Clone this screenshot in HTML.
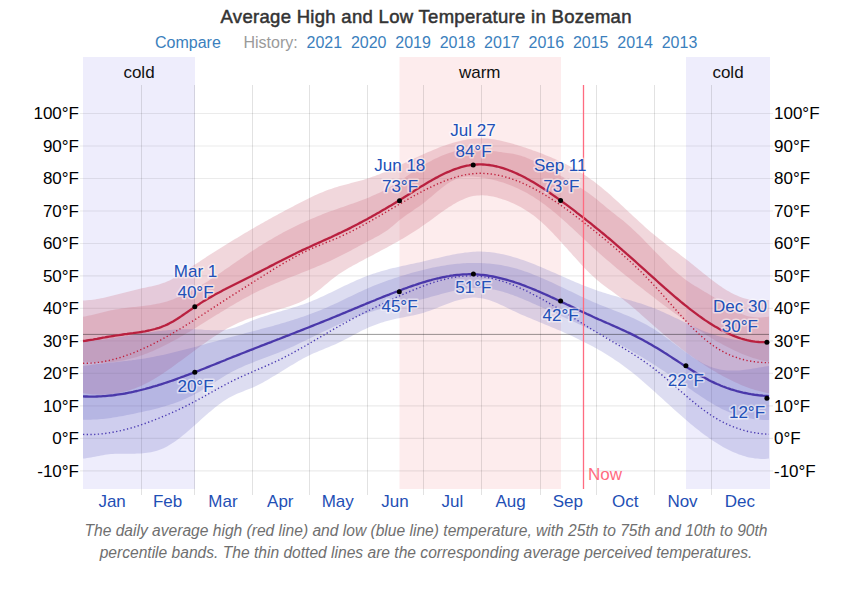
<!DOCTYPE html>
<html><head><meta charset="utf-8"><style>
html,body{margin:0;padding:0;background:#fff;}
body{width:861px;height:589px;overflow:hidden;position:relative;font-family:"Liberation Sans",sans-serif;}
svg{position:absolute;left:0;top:0;}
svg text{font-family:"Liberation Sans",sans-serif;}
.cap{position:absolute;left:0;width:852px;top:520px;text-align:center;font-style:italic;font-size:15.6px;line-height:22px;color:#6f6f6f;}
</style></head><body>
<svg width="861" height="589" viewBox="0 0 861 589">
<text x="426.2" y="22.5" text-anchor="middle" font-size="18.5" fill="#333" stroke="#333" stroke-width="0.5" letter-spacing="0.3">Average High and Low Temperature in Bozeman</text>
<g font-size="16">
<text x="155" y="47.7" fill="#3b7fbd">Compare</text>
<text x="243.5" y="47.7" fill="#9a9a9a">History:</text>
<g fill="#3b7fbd"><text x="306.5" y="47.7">2021</text><text x="350.9" y="47.7">2020</text><text x="395.3" y="47.7">2019</text><text x="439.7" y="47.7">2018</text><text x="484.1" y="47.7">2017</text><text x="528.5" y="47.7">2016</text><text x="572.9" y="47.7">2015</text><text x="617.3" y="47.7">2014</text><text x="661.7" y="47.7">2013</text></g>
</g>
<rect x="83" y="57" width="112" height="432" fill="#eeedfc"/>
<rect x="399.5" y="57" width="161.5" height="432" fill="#fdeced"/>
<rect x="686" y="57" width="84" height="432" fill="#eeedfc"/>
<g font-size="17" fill="#111" text-anchor="middle">
<text x="139" y="77.8">cold</text><text x="479.7" y="77.8">warm</text><text x="728" y="77.8">cold</text>
</g>
<g stroke="rgba(0,0,0,0.08)" stroke-width="1.1"><line x1="80" y1="470.9" x2="773" y2="470.9"/><line x1="80" y1="438.4" x2="773" y2="438.4"/><line x1="80" y1="405.9" x2="773" y2="405.9"/><line x1="80" y1="373.4" x2="773" y2="373.4"/><line x1="80" y1="340.9" x2="773" y2="340.9"/><line x1="80" y1="308.4" x2="773" y2="308.4"/><line x1="80" y1="275.9" x2="773" y2="275.9"/><line x1="80" y1="243.5" x2="773" y2="243.5"/><line x1="80" y1="211.0" x2="773" y2="211.0"/><line x1="80" y1="178.5" x2="773" y2="178.5"/><line x1="80" y1="146.0" x2="773" y2="146.0"/><line x1="80" y1="113.5" x2="773" y2="113.5"/></g>
<g stroke="rgba(0,0,0,0.115)" stroke-width="1"><line x1="141.5" y1="85" x2="141.5" y2="495"/><line x1="194.5" y1="85" x2="194.5" y2="495"/><line x1="252.5" y1="85" x2="252.5" y2="495"/><line x1="309.5" y1="85" x2="309.5" y2="495"/><line x1="367.5" y1="85" x2="367.5" y2="495"/><line x1="423.5" y1="85" x2="423.5" y2="495"/><line x1="481.5" y1="85" x2="481.5" y2="495"/><line x1="540.5" y1="85" x2="540.5" y2="495"/><line x1="596.5" y1="85" x2="596.5" y2="495"/><line x1="654.5" y1="85" x2="654.5" y2="495"/><line x1="711.5" y1="85" x2="711.5" y2="495"/></g>
<path d="M83.0,300.6 L85.0,300.5 L87.0,300.3 L89.0,300.1 L91.0,299.9 L93.0,299.7 L95.0,299.4 L97.0,299.1 L99.0,298.7 L101.0,298.3 L103.0,297.9 L105.0,297.5 L107.0,297.1 L109.0,296.6 L111.0,296.1 L113.0,295.6 L115.0,295.1 L117.0,294.6 L119.0,294.1 L121.0,293.6 L123.0,293.1 L125.0,292.5 L127.0,292.0 L129.0,291.5 L131.0,291.0 L133.0,290.5 L135.0,290.0 L137.0,289.5 L139.0,289.0 L141.0,288.5 L143.0,288.1 L145.0,287.7 L147.0,287.3 L149.0,286.8 L151.0,286.4 L153.0,286.0 L155.0,285.5 L157.0,285.0 L159.0,284.4 L161.0,283.8 L163.0,283.1 L165.0,282.4 L167.0,281.6 L169.0,280.7 L171.0,279.7 L173.0,278.6 L175.0,277.5 L177.0,276.3 L179.0,275.1 L181.0,273.8 L183.0,272.5 L185.0,271.2 L187.0,269.9 L189.0,268.5 L191.0,267.2 L193.0,265.8 L195.0,264.5 L197.0,263.2 L199.0,261.9 L201.0,260.5 L203.0,259.2 L205.0,257.9 L207.0,256.6 L209.0,255.3 L211.0,254.1 L213.0,252.8 L215.0,251.5 L217.0,250.2 L219.0,249.0 L221.0,247.7 L223.0,246.5 L225.0,245.2 L227.0,244.0 L229.0,242.8 L231.0,241.5 L233.0,240.3 L235.0,239.1 L237.0,237.9 L239.0,236.7 L241.0,235.5 L243.0,234.3 L245.0,233.1 L247.0,231.9 L249.0,230.8 L251.0,229.6 L253.0,228.4 L255.0,227.3 L257.0,226.1 L259.0,225.0 L261.0,223.8 L263.0,222.7 L265.0,221.6 L267.0,220.4 L269.0,219.3 L271.0,218.2 L273.0,217.1 L275.0,216.0 L277.0,214.9 L279.0,213.8 L281.0,212.7 L283.0,211.7 L285.0,210.6 L287.0,209.5 L289.0,208.5 L291.0,207.4 L293.0,206.4 L295.0,205.3 L297.0,204.3 L299.0,203.2 L301.0,202.2 L303.0,201.2 L305.0,200.2 L307.0,199.2 L309.0,198.2 L311.0,197.2 L313.0,196.3 L315.0,195.3 L317.0,194.4 L319.0,193.6 L321.0,192.7 L323.0,191.9 L325.0,191.1 L327.0,190.3 L329.0,189.6 L331.0,188.9 L333.0,188.2 L335.0,187.5 L337.0,186.9 L339.0,186.3 L341.0,185.8 L343.0,185.2 L345.0,184.7 L347.0,184.2 L349.0,183.7 L351.0,183.1 L353.0,182.6 L355.0,182.1 L357.0,181.6 L359.0,181.0 L361.0,180.5 L363.0,179.9 L365.0,179.3 L367.0,178.7 L369.0,178.0 L371.0,177.3 L373.0,176.6 L375.0,175.9 L377.0,175.1 L379.0,174.4 L381.0,173.6 L383.0,172.7 L385.0,171.9 L387.0,171.0 L389.0,170.2 L391.0,169.3 L393.0,168.4 L395.0,167.5 L397.0,166.6 L399.0,165.6 L401.0,164.7 L403.0,163.8 L405.0,162.8 L407.0,161.9 L409.0,160.9 L411.0,160.0 L413.0,159.1 L415.0,158.1 L417.0,157.2 L419.0,156.2 L421.0,155.3 L423.0,154.4 L425.0,153.5 L427.0,152.6 L429.0,151.7 L431.0,150.9 L433.0,150.0 L435.0,149.2 L437.0,148.4 L439.0,147.6 L441.0,146.8 L443.0,146.1 L445.0,145.4 L447.0,144.7 L449.0,144.0 L451.0,143.4 L453.0,142.8 L455.0,142.2 L457.0,141.7 L459.0,141.2 L461.0,140.7 L463.0,140.3 L465.0,139.9 L467.0,139.5 L469.0,139.2 L471.0,139.0 L473.0,138.8 L475.0,138.6 L477.0,138.5 L479.0,138.4 L481.0,138.4 L483.0,138.4 L485.0,138.5 L487.0,138.6 L489.0,138.8 L491.0,139.0 L493.0,139.3 L495.0,139.6 L497.0,139.9 L499.0,140.3 L501.0,140.7 L503.0,141.2 L505.0,141.7 L507.0,142.2 L509.0,142.7 L511.0,143.2 L513.0,143.8 L515.0,144.4 L517.0,145.0 L519.0,145.7 L521.0,146.3 L523.0,146.9 L525.0,147.6 L527.0,148.3 L529.0,149.0 L531.0,149.6 L533.0,150.4 L535.0,151.1 L537.0,151.8 L539.0,152.6 L541.0,153.3 L543.0,154.1 L545.0,154.9 L547.0,155.7 L549.0,156.5 L551.0,157.3 L553.0,158.2 L555.0,159.1 L557.0,160.0 L559.0,160.9 L561.0,161.8 L563.0,162.8 L565.0,163.8 L567.0,164.8 L569.0,165.8 L571.0,166.9 L573.0,168.0 L575.0,169.2 L577.0,170.3 L579.0,171.5 L581.0,172.7 L583.0,174.0 L585.0,175.3 L587.0,176.6 L589.0,178.0 L591.0,179.4 L593.0,180.8 L595.0,182.3 L597.0,183.9 L599.0,185.4 L601.0,187.0 L603.0,188.7 L605.0,190.4 L607.0,192.1 L609.0,193.8 L611.0,195.6 L613.0,197.4 L615.0,199.2 L617.0,201.0 L619.0,202.8 L621.0,204.7 L623.0,206.5 L625.0,208.4 L627.0,210.3 L629.0,212.2 L631.0,214.0 L633.0,215.9 L635.0,217.8 L637.0,219.6 L639.0,221.5 L641.0,223.3 L643.0,225.1 L645.0,226.9 L647.0,228.7 L649.0,230.4 L651.0,232.2 L653.0,233.8 L655.0,235.5 L657.0,237.1 L659.0,238.7 L661.0,240.3 L663.0,241.8 L665.0,243.4 L667.0,244.9 L669.0,246.4 L671.0,247.9 L673.0,249.4 L675.0,250.8 L677.0,252.3 L679.0,253.8 L681.0,255.4 L683.0,256.9 L685.0,258.4 L687.0,260.0 L689.0,261.6 L691.0,263.2 L693.0,264.8 L695.0,266.4 L697.0,268.1 L699.0,269.7 L701.0,271.3 L703.0,272.9 L705.0,274.5 L707.0,276.1 L709.0,277.7 L711.0,279.3 L713.0,280.8 L715.0,282.3 L717.0,283.7 L719.0,285.2 L721.0,286.5 L723.0,287.9 L725.0,289.2 L727.0,290.4 L729.0,291.6 L731.0,292.7 L733.0,293.7 L735.0,294.7 L737.0,295.6 L739.0,296.5 L741.0,297.2 L743.0,297.9 L745.0,298.5 L747.0,299.0 L749.0,299.4 L751.0,299.7 L753.0,300.0 L755.0,300.1 L757.0,300.3 L759.0,300.3 L761.0,300.3 L763.0,300.3 L765.0,300.2 L767.0,300.0 L769.0,299.9 L769.0,393.3 L767.0,393.0 L765.0,392.5 L763.0,392.1 L761.0,391.6 L759.0,391.1 L757.0,390.5 L755.0,389.9 L753.0,389.3 L751.0,388.7 L749.0,388.0 L747.0,387.2 L745.0,386.5 L743.0,385.7 L741.0,384.9 L739.0,384.0 L737.0,383.1 L735.0,382.2 L733.0,381.3 L731.0,380.3 L729.0,379.3 L727.0,378.3 L725.0,377.3 L723.0,376.2 L721.0,375.1 L719.0,374.0 L717.0,372.8 L715.0,371.6 L713.0,370.4 L711.0,369.2 L709.0,368.0 L707.0,366.7 L705.0,365.4 L703.0,364.1 L701.0,362.8 L699.0,361.4 L697.0,360.1 L695.0,358.7 L693.0,357.3 L691.0,355.8 L689.0,354.4 L687.0,352.9 L685.0,351.4 L683.0,349.9 L681.0,348.4 L679.0,346.8 L677.0,345.2 L675.0,343.7 L673.0,342.1 L671.0,340.4 L669.0,338.8 L667.0,337.1 L665.0,335.5 L663.0,333.8 L661.0,332.1 L659.0,330.3 L657.0,328.6 L655.0,326.9 L653.0,325.1 L651.0,323.3 L649.0,321.5 L647.0,319.7 L645.0,317.9 L643.0,316.2 L641.0,314.4 L639.0,312.6 L637.0,310.9 L635.0,309.1 L633.0,307.4 L631.0,305.7 L629.0,304.1 L627.0,302.4 L625.0,300.9 L623.0,299.3 L621.0,297.8 L619.0,296.4 L617.0,294.9 L615.0,293.5 L613.0,292.1 L611.0,290.6 L609.0,289.2 L607.0,287.7 L605.0,286.3 L603.0,284.7 L601.0,283.2 L599.0,281.5 L597.0,279.9 L595.0,278.1 L593.0,276.3 L591.0,274.4 L589.0,272.4 L587.0,270.4 L585.0,268.4 L583.0,266.3 L581.0,264.2 L579.0,262.0 L577.0,259.8 L575.0,257.6 L573.0,255.4 L571.0,253.1 L569.0,250.9 L567.0,248.6 L565.0,246.4 L563.0,244.2 L561.0,241.9 L559.0,239.7 L557.0,237.6 L555.0,235.4 L553.0,233.3 L551.0,231.2 L549.0,229.2 L547.0,227.2 L545.0,225.3 L543.0,223.4 L541.0,221.6 L539.0,219.9 L537.0,218.2 L535.0,216.6 L533.0,215.1 L531.0,213.7 L529.0,212.3 L527.0,210.9 L525.0,209.7 L523.0,208.5 L521.0,207.3 L519.0,206.2 L517.0,205.2 L515.0,204.2 L513.0,203.3 L511.0,202.4 L509.0,201.6 L507.0,200.8 L505.0,200.1 L503.0,199.4 L501.0,198.8 L499.0,198.2 L497.0,197.6 L495.0,197.1 L493.0,196.6 L491.0,196.2 L489.0,195.9 L487.0,195.6 L485.0,195.5 L483.0,195.3 L481.0,195.3 L479.0,195.4 L477.0,195.5 L475.0,195.8 L473.0,196.1 L471.0,196.6 L469.0,197.1 L467.0,197.8 L465.0,198.5 L463.0,199.4 L461.0,200.3 L459.0,201.3 L457.0,202.3 L455.0,203.4 L453.0,204.6 L451.0,205.9 L449.0,207.1 L447.0,208.5 L445.0,209.8 L443.0,211.2 L441.0,212.6 L439.0,214.1 L437.0,215.5 L435.0,217.0 L433.0,218.4 L431.0,219.9 L429.0,221.4 L427.0,222.8 L425.0,224.2 L423.0,225.6 L421.0,227.0 L419.0,228.4 L417.0,229.7 L415.0,231.0 L413.0,232.3 L411.0,233.5 L409.0,234.8 L407.0,236.0 L405.0,237.2 L403.0,238.4 L401.0,239.6 L399.0,240.7 L397.0,241.9 L395.0,243.0 L393.0,244.1 L391.0,245.2 L389.0,246.3 L387.0,247.4 L385.0,248.5 L383.0,249.5 L381.0,250.6 L379.0,251.7 L377.0,252.7 L375.0,253.8 L373.0,254.9 L371.0,255.9 L369.0,257.0 L367.0,258.0 L365.0,259.1 L363.0,260.2 L361.0,261.2 L359.0,262.3 L357.0,263.4 L355.0,264.5 L353.0,265.6 L351.0,266.7 L349.0,267.8 L347.0,269.0 L345.0,270.2 L343.0,271.4 L341.0,272.7 L339.0,274.0 L337.0,275.5 L335.0,277.0 L333.0,278.5 L331.0,280.1 L329.0,281.8 L327.0,283.4 L325.0,285.1 L323.0,286.7 L321.0,288.4 L319.0,290.0 L317.0,291.6 L315.0,293.1 L313.0,294.6 L311.0,296.0 L309.0,297.3 L307.0,298.6 L305.0,299.7 L303.0,300.8 L301.0,301.8 L299.0,302.7 L297.0,303.6 L295.0,304.3 L293.0,305.1 L291.0,305.8 L289.0,306.4 L287.0,307.1 L285.0,307.7 L283.0,308.3 L281.0,308.8 L279.0,309.4 L277.0,310.0 L275.0,310.5 L273.0,311.1 L271.0,311.6 L269.0,312.2 L267.0,312.8 L265.0,313.4 L263.0,314.0 L261.0,314.6 L259.0,315.2 L257.0,315.8 L255.0,316.5 L253.0,317.2 L251.0,317.9 L249.0,318.6 L247.0,319.3 L245.0,320.1 L243.0,320.9 L241.0,321.8 L239.0,322.6 L237.0,323.5 L235.0,324.5 L233.0,325.4 L231.0,326.5 L229.0,327.5 L227.0,328.6 L225.0,329.8 L223.0,330.9 L221.0,332.2 L219.0,333.4 L217.0,334.7 L215.0,336.0 L213.0,337.3 L211.0,338.7 L209.0,340.1 L207.0,341.5 L205.0,342.9 L203.0,344.3 L201.0,345.8 L199.0,347.2 L197.0,348.7 L195.0,350.2 L193.0,351.7 L191.0,353.2 L189.0,354.7 L187.0,356.2 L185.0,357.7 L183.0,359.2 L181.0,360.7 L179.0,362.1 L177.0,363.6 L175.0,365.1 L173.0,366.5 L171.0,367.9 L169.0,369.3 L167.0,370.7 L165.0,372.1 L163.0,373.4 L161.0,374.7 L159.0,376.0 L157.0,377.3 L155.0,378.5 L153.0,379.7 L151.0,380.8 L149.0,381.9 L147.0,383.0 L145.0,384.0 L143.0,385.0 L141.0,385.9 L139.0,386.8 L137.0,387.6 L135.0,388.4 L133.0,389.1 L131.0,389.8 L129.0,390.4 L127.0,391.0 L125.0,391.6 L123.0,392.1 L121.0,392.5 L119.0,392.9 L117.0,393.3 L115.0,393.6 L113.0,393.9 L111.0,394.1 L109.0,394.3 L107.0,394.5 L105.0,394.6 L103.0,394.7 L101.0,394.7 L99.0,394.7 L97.0,394.6 L95.0,394.5 L93.0,394.4 L91.0,394.2 L89.0,394.0 L87.0,393.7 L85.0,393.4 L83.0,393.1 Z" fill="rgba(207,117,133,0.287)"/>
<path d="M83.0,316.7 L85.0,316.4 L87.0,316.0 L89.0,315.6 L91.0,315.2 L93.0,314.7 L95.0,314.2 L97.0,313.7 L99.0,313.2 L101.0,312.7 L103.0,312.2 L105.0,311.7 L107.0,311.2 L109.0,310.8 L111.0,310.3 L113.0,309.9 L115.0,309.5 L117.0,309.2 L119.0,308.9 L121.0,308.6 L123.0,308.3 L125.0,308.0 L127.0,307.8 L129.0,307.6 L131.0,307.3 L133.0,307.1 L135.0,306.9 L137.0,306.7 L139.0,306.5 L141.0,306.2 L143.0,306.0 L145.0,305.8 L147.0,305.5 L149.0,305.2 L151.0,304.9 L153.0,304.6 L155.0,304.2 L157.0,303.8 L159.0,303.4 L161.0,303.0 L163.0,302.5 L165.0,302.0 L167.0,301.4 L169.0,300.8 L171.0,300.1 L173.0,299.4 L175.0,298.6 L177.0,297.8 L179.0,297.0 L181.0,296.1 L183.0,295.2 L185.0,294.2 L187.0,293.2 L189.0,292.2 L191.0,291.2 L193.0,290.1 L195.0,288.9 L197.0,287.8 L199.0,286.6 L201.0,285.4 L203.0,284.2 L205.0,282.9 L207.0,281.7 L209.0,280.4 L211.0,279.1 L213.0,277.8 L215.0,276.4 L217.0,275.1 L219.0,273.7 L221.0,272.4 L223.0,271.0 L225.0,269.6 L227.0,268.2 L229.0,266.9 L231.0,265.5 L233.0,264.1 L235.0,262.7 L237.0,261.3 L239.0,259.9 L241.0,258.5 L243.0,257.2 L245.0,255.8 L247.0,254.4 L249.0,253.1 L251.0,251.8 L253.0,250.5 L255.0,249.2 L257.0,247.9 L259.0,246.6 L261.0,245.4 L263.0,244.1 L265.0,242.9 L267.0,241.7 L269.0,240.5 L271.0,239.4 L273.0,238.2 L275.0,237.1 L277.0,235.9 L279.0,234.8 L281.0,233.7 L283.0,232.6 L285.0,231.6 L287.0,230.5 L289.0,229.5 L291.0,228.5 L293.0,227.5 L295.0,226.5 L297.0,225.5 L299.0,224.5 L301.0,223.6 L303.0,222.7 L305.0,221.7 L307.0,220.8 L309.0,220.0 L311.0,219.1 L313.0,218.2 L315.0,217.4 L317.0,216.5 L319.0,215.7 L321.0,214.9 L323.0,214.1 L325.0,213.3 L327.0,212.6 L329.0,211.8 L331.0,211.1 L333.0,210.4 L335.0,209.7 L337.0,209.0 L339.0,208.3 L341.0,207.6 L343.0,206.9 L345.0,206.2 L347.0,205.5 L349.0,204.8 L351.0,204.1 L353.0,203.4 L355.0,202.7 L357.0,202.0 L359.0,201.2 L361.0,200.5 L363.0,199.7 L365.0,199.0 L367.0,198.2 L369.0,197.4 L371.0,196.5 L373.0,195.6 L375.0,194.8 L377.0,193.8 L379.0,192.9 L381.0,191.9 L383.0,190.9 L385.0,189.8 L387.0,188.7 L389.0,187.6 L391.0,186.4 L393.0,185.2 L395.0,184.0 L397.0,182.7 L399.0,181.4 L401.0,180.1 L403.0,178.7 L405.0,177.4 L407.0,176.0 L409.0,174.7 L411.0,173.3 L413.0,171.9 L415.0,170.6 L417.0,169.3 L419.0,168.0 L421.0,166.7 L423.0,165.5 L425.0,164.3 L427.0,163.1 L429.0,162.0 L431.0,160.9 L433.0,159.8 L435.0,158.8 L437.0,157.9 L439.0,157.0 L441.0,156.1 L443.0,155.3 L445.0,154.5 L447.0,153.8 L449.0,153.1 L451.0,152.4 L453.0,151.8 L455.0,151.3 L457.0,150.8 L459.0,150.4 L461.0,150.0 L463.0,149.7 L465.0,149.4 L467.0,149.2 L469.0,149.1 L471.0,149.0 L473.0,149.0 L475.0,149.0 L477.0,149.1 L479.0,149.2 L481.0,149.4 L483.0,149.6 L485.0,149.8 L487.0,150.1 L489.0,150.4 L491.0,150.7 L493.0,151.0 L495.0,151.3 L497.0,151.6 L499.0,151.9 L501.0,152.1 L503.0,152.4 L505.0,152.7 L507.0,152.9 L509.0,153.2 L511.0,153.5 L513.0,153.8 L515.0,154.2 L517.0,154.7 L519.0,155.2 L521.0,155.7 L523.0,156.4 L525.0,157.1 L527.0,157.9 L529.0,158.8 L531.0,159.7 L533.0,160.6 L535.0,161.6 L537.0,162.6 L539.0,163.7 L541.0,164.7 L543.0,165.8 L545.0,166.9 L547.0,168.0 L549.0,169.1 L551.0,170.2 L553.0,171.3 L555.0,172.5 L557.0,173.6 L559.0,174.8 L561.0,176.0 L563.0,177.1 L565.0,178.3 L567.0,179.5 L569.0,180.7 L571.0,181.8 L573.0,183.0 L575.0,184.3 L577.0,185.5 L579.0,186.8 L581.0,188.1 L583.0,189.4 L585.0,190.7 L587.0,192.1 L589.0,193.5 L591.0,194.9 L593.0,196.4 L595.0,198.0 L597.0,199.6 L599.0,201.2 L601.0,202.9 L603.0,204.5 L605.0,206.2 L607.0,207.9 L609.0,209.6 L611.0,211.2 L613.0,212.8 L615.0,214.3 L617.0,215.9 L619.0,217.4 L621.0,219.0 L623.0,220.6 L625.0,222.3 L627.0,224.0 L629.0,225.7 L631.0,227.5 L633.0,229.4 L635.0,231.3 L637.0,233.2 L639.0,235.1 L641.0,237.1 L643.0,239.1 L645.0,241.2 L647.0,243.2 L649.0,245.3 L651.0,247.3 L653.0,249.4 L655.0,251.5 L657.0,253.5 L659.0,255.6 L661.0,257.6 L663.0,259.6 L665.0,261.6 L667.0,263.6 L669.0,265.5 L671.0,267.4 L673.0,269.2 L675.0,271.0 L677.0,272.8 L679.0,274.5 L681.0,276.1 L683.0,277.7 L685.0,279.2 L687.0,280.7 L689.0,282.1 L691.0,283.4 L693.0,284.7 L695.0,285.9 L697.0,287.1 L699.0,288.3 L701.0,289.5 L703.0,290.7 L705.0,291.9 L707.0,293.1 L709.0,294.3 L711.0,295.5 L713.0,296.8 L715.0,298.1 L717.0,299.4 L719.0,300.7 L721.0,302.1 L723.0,303.4 L725.0,304.8 L727.0,306.1 L729.0,307.3 L731.0,308.6 L733.0,309.8 L735.0,310.9 L737.0,311.9 L739.0,312.9 L741.0,313.8 L743.0,314.6 L745.0,315.3 L747.0,315.9 L749.0,316.4 L751.0,316.8 L753.0,317.1 L755.0,317.3 L757.0,317.4 L759.0,317.4 L761.0,317.4 L763.0,317.3 L765.0,317.1 L767.0,316.9 L769.0,316.6 L769.0,361.9 L767.0,361.6 L765.0,361.1 L763.0,360.7 L761.0,360.2 L759.0,359.7 L757.0,359.1 L755.0,358.5 L753.0,357.9 L751.0,357.2 L749.0,356.5 L747.0,355.8 L745.0,355.0 L743.0,354.2 L741.0,353.4 L739.0,352.5 L737.0,351.6 L735.0,350.7 L733.0,349.8 L731.0,348.8 L729.0,347.8 L727.0,346.8 L725.0,345.8 L723.0,344.7 L721.0,343.6 L719.0,342.5 L717.0,341.4 L715.0,340.2 L713.0,339.0 L711.0,337.8 L709.0,336.6 L707.0,335.4 L705.0,334.1 L703.0,332.8 L701.0,331.5 L699.0,330.2 L697.0,328.9 L695.0,327.5 L693.0,326.2 L691.0,324.8 L689.0,323.4 L687.0,322.0 L685.0,320.6 L683.0,319.2 L681.0,317.7 L679.0,316.3 L677.0,314.8 L675.0,313.4 L673.0,311.9 L671.0,310.4 L669.0,308.9 L667.0,307.4 L665.0,305.9 L663.0,304.4 L661.0,302.9 L659.0,301.4 L657.0,299.9 L655.0,298.3 L653.0,296.8 L651.0,295.3 L649.0,293.7 L647.0,292.2 L645.0,290.7 L643.0,289.1 L641.0,287.6 L639.0,286.0 L637.0,284.5 L635.0,282.9 L633.0,281.3 L631.0,279.7 L629.0,278.1 L627.0,276.5 L625.0,274.9 L623.0,273.3 L621.0,271.7 L619.0,270.0 L617.0,268.4 L615.0,266.7 L613.0,265.0 L611.0,263.3 L609.0,261.6 L607.0,259.9 L605.0,258.2 L603.0,256.4 L601.0,254.7 L599.0,252.9 L597.0,251.1 L595.0,249.3 L593.0,247.5 L591.0,245.6 L589.0,243.8 L587.0,241.9 L585.0,240.0 L583.0,238.2 L581.0,236.3 L579.0,234.4 L577.0,232.6 L575.0,230.7 L573.0,228.8 L571.0,227.0 L569.0,225.2 L567.0,223.3 L565.0,221.5 L563.0,219.7 L561.0,218.0 L559.0,216.2 L557.0,214.5 L555.0,212.8 L553.0,211.2 L551.0,209.5 L549.0,207.9 L547.0,206.4 L545.0,204.8 L543.0,203.4 L541.0,201.9 L539.0,200.5 L537.0,199.2 L535.0,197.9 L533.0,196.6 L531.0,195.4 L529.0,194.2 L527.0,193.1 L525.0,192.0 L523.0,191.0 L521.0,190.0 L519.0,189.0 L517.0,188.1 L515.0,187.2 L513.0,186.3 L511.0,185.5 L509.0,184.7 L507.0,184.0 L505.0,183.3 L503.0,182.6 L501.0,182.0 L499.0,181.4 L497.0,180.8 L495.0,180.3 L493.0,179.8 L491.0,179.3 L489.0,178.9 L487.0,178.5 L485.0,178.1 L483.0,177.7 L481.0,177.4 L479.0,177.1 L477.0,176.9 L475.0,176.7 L473.0,176.5 L471.0,176.5 L469.0,176.5 L467.0,176.6 L465.0,176.8 L463.0,177.0 L461.0,177.5 L459.0,178.0 L457.0,178.6 L455.0,179.5 L453.0,180.4 L451.0,181.5 L449.0,182.7 L447.0,184.0 L445.0,185.5 L443.0,187.0 L441.0,188.5 L439.0,190.2 L437.0,191.8 L435.0,193.5 L433.0,195.2 L431.0,196.9 L429.0,198.6 L427.0,200.3 L425.0,201.9 L423.0,203.4 L421.0,204.9 L419.0,206.4 L417.0,207.8 L415.0,209.1 L413.0,210.5 L411.0,211.9 L409.0,213.2 L407.0,214.6 L405.0,216.0 L403.0,217.5 L401.0,219.0 L399.0,220.6 L397.0,222.3 L395.0,224.0 L393.0,225.7 L391.0,227.3 L389.0,228.9 L387.0,230.4 L385.0,231.7 L383.0,233.0 L381.0,234.2 L379.0,235.4 L377.0,236.5 L375.0,237.6 L373.0,238.7 L371.0,239.7 L369.0,240.8 L367.0,241.8 L365.0,242.9 L363.0,243.9 L361.0,245.0 L359.0,246.1 L357.0,247.2 L355.0,248.2 L353.0,249.3 L351.0,250.4 L349.0,251.5 L347.0,252.5 L345.0,253.6 L343.0,254.6 L341.0,255.6 L339.0,256.6 L337.0,257.6 L335.0,258.6 L333.0,259.5 L331.0,260.5 L329.0,261.4 L327.0,262.3 L325.0,263.2 L323.0,264.0 L321.0,264.9 L319.0,265.7 L317.0,266.6 L315.0,267.4 L313.0,268.2 L311.0,269.1 L309.0,269.9 L307.0,270.7 L305.0,271.5 L303.0,272.3 L301.0,273.1 L299.0,273.9 L297.0,274.7 L295.0,275.4 L293.0,276.2 L291.0,277.0 L289.0,277.8 L287.0,278.6 L285.0,279.4 L283.0,280.3 L281.0,281.1 L279.0,281.9 L277.0,282.7 L275.0,283.6 L273.0,284.4 L271.0,285.3 L269.0,286.2 L267.0,287.1 L265.0,288.0 L263.0,288.9 L261.0,289.8 L259.0,290.8 L257.0,291.8 L255.0,292.8 L253.0,293.8 L251.0,294.8 L249.0,295.9 L247.0,296.9 L245.0,298.0 L243.0,299.1 L241.0,300.2 L239.0,301.4 L237.0,302.5 L235.0,303.7 L233.0,304.9 L231.0,306.1 L229.0,307.3 L227.0,308.5 L225.0,309.7 L223.0,310.9 L221.0,312.1 L219.0,313.4 L217.0,314.6 L215.0,315.8 L213.0,317.1 L211.0,318.3 L209.0,319.6 L207.0,320.8 L205.0,322.1 L203.0,323.3 L201.0,324.6 L199.0,325.8 L197.0,327.0 L195.0,328.3 L193.0,329.5 L191.0,330.7 L189.0,331.9 L187.0,333.1 L185.0,334.3 L183.0,335.4 L181.0,336.6 L179.0,337.7 L177.0,338.9 L175.0,340.0 L173.0,341.1 L171.0,342.1 L169.0,343.2 L167.0,344.2 L165.0,345.3 L163.0,346.3 L161.0,347.2 L159.0,348.2 L157.0,349.1 L155.0,350.0 L153.0,350.9 L151.0,351.7 L149.0,352.6 L147.0,353.4 L145.0,354.1 L143.0,354.9 L141.0,355.6 L139.0,356.2 L137.0,356.9 L135.0,357.5 L133.0,358.0 L131.0,358.6 L129.0,359.1 L127.0,359.5 L125.0,360.0 L123.0,360.4 L121.0,360.8 L119.0,361.1 L117.0,361.4 L115.0,361.7 L113.0,361.9 L111.0,362.1 L109.0,362.3 L107.0,362.4 L105.0,362.5 L103.0,362.6 L101.0,362.6 L99.0,362.6 L97.0,362.6 L95.0,362.5 L93.0,362.4 L91.0,362.3 L89.0,362.1 L87.0,362.0 L85.0,361.7 L83.0,361.5 Z" fill="rgba(207,117,133,0.287)"/>
<path d="M83.0,341.3 L85.0,341.2 L87.0,341.1 L89.0,340.9 L91.0,340.7 L93.0,340.5 L95.0,340.3 L97.0,340.1 L99.0,339.9 L101.0,339.7 L103.0,339.4 L105.0,339.2 L107.0,338.9 L109.0,338.6 L111.0,338.3 L113.0,338.0 L115.0,337.7 L117.0,337.4 L119.0,337.1 L121.0,336.8 L123.0,336.5 L125.0,336.2 L127.0,335.9 L129.0,335.5 L131.0,335.2 L133.0,334.9 L135.0,334.6 L137.0,334.2 L139.0,333.9 L141.0,333.6 L143.0,333.3 L145.0,333.0 L147.0,332.7 L149.0,332.4 L151.0,332.1 L153.0,331.9 L155.0,331.6 L157.0,331.3 L159.0,331.1 L161.0,330.9 L163.0,330.6 L165.0,330.4 L167.0,330.2 L169.0,330.0 L171.0,329.9 L173.0,329.7 L175.0,329.6 L177.0,329.5 L179.0,329.4 L181.0,329.3 L183.0,329.2 L185.0,329.2 L187.0,329.2 L189.0,329.2 L191.0,329.2 L193.0,329.2 L195.0,329.3 L197.0,329.4 L199.0,329.5 L201.0,329.6 L203.0,329.8 L205.0,329.9 L207.0,330.0 L209.0,330.1 L211.0,330.2 L213.0,330.3 L215.0,330.3 L217.0,330.3 L219.0,330.2 L221.0,330.1 L223.0,329.9 L225.0,329.7 L227.0,329.4 L229.0,329.0 L231.0,328.5 L233.0,328.0 L235.0,327.4 L237.0,326.7 L239.0,325.9 L241.0,325.2 L243.0,324.4 L245.0,323.5 L247.0,322.7 L249.0,321.9 L251.0,321.1 L253.0,320.3 L255.0,319.5 L257.0,318.7 L259.0,318.0 L261.0,317.3 L263.0,316.7 L265.0,316.0 L267.0,315.4 L269.0,314.7 L271.0,314.1 L273.0,313.5 L275.0,312.9 L277.0,312.3 L279.0,311.8 L281.0,311.2 L283.0,310.6 L285.0,310.0 L287.0,309.4 L289.0,308.9 L291.0,308.3 L293.0,307.6 L295.0,307.0 L297.0,306.4 L299.0,305.7 L301.0,305.1 L303.0,304.4 L305.0,303.7 L307.0,302.9 L309.0,302.2 L311.0,301.4 L313.0,300.6 L315.0,299.7 L317.0,298.9 L319.0,298.0 L321.0,297.1 L323.0,296.2 L325.0,295.2 L327.0,294.3 L329.0,293.3 L331.0,292.4 L333.0,291.4 L335.0,290.5 L337.0,289.5 L339.0,288.5 L341.0,287.5 L343.0,286.6 L345.0,285.6 L347.0,284.7 L349.0,283.7 L351.0,282.8 L353.0,281.9 L355.0,281.0 L357.0,280.1 L359.0,279.2 L361.0,278.4 L363.0,277.5 L365.0,276.7 L367.0,276.0 L369.0,275.2 L371.0,274.5 L373.0,273.8 L375.0,273.2 L377.0,272.5 L379.0,271.9 L381.0,271.3 L383.0,270.8 L385.0,270.2 L387.0,269.7 L389.0,269.1 L391.0,268.6 L393.0,268.1 L395.0,267.7 L397.0,267.2 L399.0,266.7 L401.0,266.3 L403.0,265.8 L405.0,265.4 L407.0,265.0 L409.0,264.5 L411.0,264.1 L413.0,263.7 L415.0,263.2 L417.0,262.8 L419.0,262.4 L421.0,261.9 L423.0,261.5 L425.0,261.0 L427.0,260.5 L429.0,260.1 L431.0,259.6 L433.0,259.1 L435.0,258.6 L437.0,258.2 L439.0,257.7 L441.0,257.2 L443.0,256.7 L445.0,256.3 L447.0,255.8 L449.0,255.4 L451.0,255.0 L453.0,254.6 L455.0,254.2 L457.0,253.8 L459.0,253.5 L461.0,253.2 L463.0,252.9 L465.0,252.6 L467.0,252.4 L469.0,252.2 L471.0,252.0 L473.0,251.8 L475.0,251.7 L477.0,251.6 L479.0,251.6 L481.0,251.6 L483.0,251.7 L485.0,251.8 L487.0,251.9 L489.0,252.1 L491.0,252.3 L493.0,252.5 L495.0,252.8 L497.0,253.2 L499.0,253.5 L501.0,253.9 L503.0,254.3 L505.0,254.8 L507.0,255.3 L509.0,255.8 L511.0,256.3 L513.0,256.9 L515.0,257.5 L517.0,258.1 L519.0,258.8 L521.0,259.4 L523.0,260.1 L525.0,260.8 L527.0,261.6 L529.0,262.3 L531.0,263.1 L533.0,263.8 L535.0,264.6 L537.0,265.5 L539.0,266.3 L541.0,267.1 L543.0,267.9 L545.0,268.8 L547.0,269.7 L549.0,270.5 L551.0,271.4 L553.0,272.3 L555.0,273.1 L557.0,274.0 L559.0,274.9 L561.0,275.8 L563.0,276.7 L565.0,277.6 L567.0,278.4 L569.0,279.3 L571.0,280.2 L573.0,281.0 L575.0,281.9 L577.0,282.7 L579.0,283.6 L581.0,284.4 L583.0,285.2 L585.0,286.0 L587.0,286.8 L589.0,287.6 L591.0,288.3 L593.0,289.1 L595.0,289.8 L597.0,290.5 L599.0,291.2 L601.0,291.8 L603.0,292.5 L605.0,293.1 L607.0,293.7 L609.0,294.3 L611.0,294.9 L613.0,295.5 L615.0,296.0 L617.0,296.6 L619.0,297.2 L621.0,297.7 L623.0,298.3 L625.0,298.9 L627.0,299.4 L629.0,300.0 L631.0,300.6 L633.0,301.2 L635.0,301.8 L637.0,302.4 L639.0,303.0 L641.0,303.6 L643.0,304.3 L645.0,305.0 L647.0,305.7 L649.0,306.4 L651.0,307.1 L653.0,307.9 L655.0,308.6 L657.0,309.5 L659.0,310.3 L661.0,311.2 L663.0,312.0 L665.0,313.0 L667.0,313.9 L669.0,314.8 L671.0,315.8 L673.0,316.7 L675.0,317.7 L677.0,318.6 L679.0,319.6 L681.0,320.6 L683.0,321.6 L685.0,322.5 L687.0,323.5 L689.0,324.5 L691.0,325.4 L693.0,326.3 L695.0,327.2 L697.0,328.1 L699.0,329.0 L701.0,329.9 L703.0,330.7 L705.0,331.5 L707.0,332.3 L709.0,333.1 L711.0,333.8 L713.0,334.4 L715.0,335.1 L717.0,335.7 L719.0,336.3 L721.0,336.8 L723.0,337.3 L725.0,337.8 L727.0,338.2 L729.0,338.6 L731.0,339.0 L733.0,339.4 L735.0,339.7 L737.0,340.0 L739.0,340.2 L741.0,340.5 L743.0,340.7 L745.0,340.9 L747.0,341.0 L749.0,341.2 L751.0,341.3 L753.0,341.4 L755.0,341.4 L757.0,341.5 L759.0,341.5 L761.0,341.5 L763.0,341.5 L765.0,341.4 L767.0,341.4 L769.0,341.3 L769.0,458.6 L767.0,458.8 L765.0,458.9 L763.0,458.9 L761.0,458.9 L759.0,458.8 L757.0,458.6 L755.0,458.4 L753.0,458.1 L751.0,457.8 L749.0,457.4 L747.0,456.9 L745.0,456.3 L743.0,455.8 L741.0,455.1 L739.0,454.4 L737.0,453.6 L735.0,452.8 L733.0,452.0 L731.0,451.0 L729.0,450.1 L727.0,449.1 L725.0,448.0 L723.0,446.9 L721.0,445.8 L719.0,444.6 L717.0,443.3 L715.0,442.1 L713.0,440.8 L711.0,439.4 L709.0,438.0 L707.0,436.6 L705.0,435.2 L703.0,433.7 L701.0,432.2 L699.0,430.6 L697.0,429.1 L695.0,427.5 L693.0,425.8 L691.0,424.2 L689.0,422.5 L687.0,420.8 L685.0,419.1 L683.0,417.3 L681.0,415.6 L679.0,413.8 L677.0,412.0 L675.0,410.2 L673.0,408.4 L671.0,406.6 L669.0,404.8 L667.0,403.0 L665.0,401.2 L663.0,399.3 L661.0,397.5 L659.0,395.7 L657.0,393.9 L655.0,392.0 L653.0,390.2 L651.0,388.5 L649.0,386.7 L647.0,384.9 L645.0,383.2 L643.0,381.4 L641.0,379.7 L639.0,378.0 L637.0,376.3 L635.0,374.7 L633.0,373.1 L631.0,371.5 L629.0,369.9 L627.0,368.4 L625.0,366.9 L623.0,365.4 L621.0,364.0 L619.0,362.6 L617.0,361.2 L615.0,359.9 L613.0,358.5 L611.0,357.2 L609.0,356.0 L607.0,354.7 L605.0,353.5 L603.0,352.3 L601.0,351.1 L599.0,349.9 L597.0,348.8 L595.0,347.7 L593.0,346.6 L591.0,345.5 L589.0,344.4 L587.0,343.4 L585.0,342.4 L583.0,341.4 L581.0,340.4 L579.0,339.4 L577.0,338.4 L575.0,337.5 L573.0,336.5 L571.0,335.6 L569.0,334.7 L567.0,333.8 L565.0,332.9 L563.0,332.0 L561.0,331.1 L559.0,330.3 L557.0,329.4 L555.0,328.6 L553.0,327.7 L551.0,326.9 L549.0,326.0 L547.0,325.2 L545.0,324.4 L543.0,323.6 L541.0,322.8 L539.0,321.9 L537.0,321.1 L535.0,320.3 L533.0,319.5 L531.0,318.6 L529.0,317.8 L527.0,317.0 L525.0,316.1 L523.0,315.2 L521.0,314.4 L519.0,313.5 L517.0,312.6 L515.0,311.6 L513.0,310.7 L511.0,309.7 L509.0,308.7 L507.0,307.7 L505.0,306.8 L503.0,305.8 L501.0,304.9 L499.0,304.0 L497.0,303.1 L495.0,302.3 L493.0,301.5 L491.0,300.8 L489.0,300.1 L487.0,299.5 L485.0,299.0 L483.0,298.5 L481.0,298.2 L479.0,297.9 L477.0,297.7 L475.0,297.6 L473.0,297.6 L471.0,297.7 L469.0,297.9 L467.0,298.2 L465.0,298.5 L463.0,298.9 L461.0,299.4 L459.0,299.9 L457.0,300.5 L455.0,301.1 L453.0,301.8 L451.0,302.5 L449.0,303.2 L447.0,304.0 L445.0,304.7 L443.0,305.5 L441.0,306.3 L439.0,307.1 L437.0,307.9 L435.0,308.7 L433.0,309.5 L431.0,310.2 L429.0,310.9 L427.0,311.6 L425.0,312.3 L423.0,312.9 L421.0,313.4 L419.0,314.0 L417.0,314.5 L415.0,314.9 L413.0,315.4 L411.0,315.8 L409.0,316.2 L407.0,316.6 L405.0,317.0 L403.0,317.4 L401.0,317.8 L399.0,318.2 L397.0,318.6 L395.0,319.1 L393.0,319.5 L391.0,320.0 L389.0,320.5 L387.0,321.1 L385.0,321.6 L383.0,322.2 L381.0,322.8 L379.0,323.5 L377.0,324.2 L375.0,324.9 L373.0,325.7 L371.0,326.5 L369.0,327.3 L367.0,328.2 L365.0,329.2 L363.0,330.1 L361.0,331.1 L359.0,332.2 L357.0,333.2 L355.0,334.3 L353.0,335.3 L351.0,336.4 L349.0,337.5 L347.0,338.5 L345.0,339.6 L343.0,340.6 L341.0,341.6 L339.0,342.6 L337.0,343.5 L335.0,344.4 L333.0,345.2 L331.0,346.1 L329.0,346.9 L327.0,347.7 L325.0,348.6 L323.0,349.4 L321.0,350.2 L319.0,351.0 L317.0,351.9 L315.0,352.8 L313.0,353.6 L311.0,354.6 L309.0,355.5 L307.0,356.5 L305.0,357.5 L303.0,358.6 L301.0,359.7 L299.0,360.8 L297.0,362.0 L295.0,363.2 L293.0,364.4 L291.0,365.6 L289.0,366.8 L287.0,368.0 L285.0,369.3 L283.0,370.5 L281.0,371.7 L279.0,373.0 L277.0,374.2 L275.0,375.4 L273.0,376.6 L271.0,377.8 L269.0,379.0 L267.0,380.2 L265.0,381.3 L263.0,382.4 L261.0,383.5 L259.0,384.5 L257.0,385.5 L255.0,386.4 L253.0,387.4 L251.0,388.2 L249.0,389.0 L247.0,389.8 L245.0,390.6 L243.0,391.4 L241.0,392.2 L239.0,393.0 L237.0,393.8 L235.0,394.7 L233.0,395.7 L231.0,396.7 L229.0,397.8 L227.0,399.0 L225.0,400.2 L223.0,401.6 L221.0,403.0 L219.0,404.5 L217.0,406.0 L215.0,407.6 L213.0,409.2 L211.0,410.9 L209.0,412.6 L207.0,414.3 L205.0,416.1 L203.0,417.8 L201.0,419.6 L199.0,421.4 L197.0,423.2 L195.0,425.0 L193.0,426.8 L191.0,428.6 L189.0,430.3 L187.0,432.0 L185.0,433.7 L183.0,435.3 L181.0,436.9 L179.0,438.5 L177.0,440.0 L175.0,441.4 L173.0,442.8 L171.0,444.1 L169.0,445.3 L167.0,446.4 L165.0,447.5 L163.0,448.4 L161.0,449.3 L159.0,450.0 L157.0,450.7 L155.0,451.2 L153.0,451.7 L151.0,452.2 L149.0,452.5 L147.0,452.8 L145.0,453.1 L143.0,453.3 L141.0,453.4 L139.0,453.5 L137.0,453.6 L135.0,453.7 L133.0,453.7 L131.0,453.7 L129.0,453.7 L127.0,453.7 L125.0,453.7 L123.0,453.7 L121.0,453.7 L119.0,453.7 L117.0,453.8 L115.0,453.8 L113.0,454.0 L111.0,454.1 L109.0,454.3 L107.0,454.6 L105.0,454.8 L103.0,455.2 L101.0,455.5 L99.0,455.9 L97.0,456.3 L95.0,456.7 L93.0,457.1 L91.0,457.5 L89.0,457.8 L87.0,458.1 L85.0,458.4 L83.0,458.6 Z" fill="rgba(90,86,184,0.204)"/>
<path d="M83.0,366.1 L85.0,365.8 L87.0,365.5 L89.0,365.2 L91.0,364.9 L93.0,364.6 L95.0,364.4 L97.0,364.1 L99.0,363.9 L101.0,363.7 L103.0,363.5 L105.0,363.2 L107.0,363.0 L109.0,362.8 L111.0,362.6 L113.0,362.4 L115.0,362.2 L117.0,362.0 L119.0,361.8 L121.0,361.6 L123.0,361.3 L125.0,361.1 L127.0,360.9 L129.0,360.6 L131.0,360.4 L133.0,360.1 L135.0,359.9 L137.0,359.6 L139.0,359.3 L141.0,359.0 L143.0,358.7 L145.0,358.4 L147.0,358.0 L149.0,357.7 L151.0,357.3 L153.0,356.9 L155.0,356.5 L157.0,356.1 L159.0,355.7 L161.0,355.3 L163.0,354.9 L165.0,354.4 L167.0,354.0 L169.0,353.5 L171.0,353.1 L173.0,352.6 L175.0,352.1 L177.0,351.6 L179.0,351.1 L181.0,350.6 L183.0,350.1 L185.0,349.6 L187.0,349.1 L189.0,348.5 L191.0,348.0 L193.0,347.5 L195.0,346.9 L197.0,346.4 L199.0,345.8 L201.0,345.3 L203.0,344.7 L205.0,344.2 L207.0,343.6 L209.0,343.1 L211.0,342.5 L213.0,342.0 L215.0,341.4 L217.0,340.9 L219.0,340.3 L221.0,339.7 L223.0,339.2 L225.0,338.7 L227.0,338.1 L229.0,337.6 L231.0,337.0 L233.0,336.5 L235.0,336.0 L237.0,335.4 L239.0,334.9 L241.0,334.4 L243.0,333.9 L245.0,333.3 L247.0,332.8 L249.0,332.3 L251.0,331.8 L253.0,331.2 L255.0,330.7 L257.0,330.2 L259.0,329.7 L261.0,329.1 L263.0,328.6 L265.0,328.1 L267.0,327.5 L269.0,327.0 L271.0,326.4 L273.0,325.9 L275.0,325.3 L277.0,324.8 L279.0,324.2 L281.0,323.6 L283.0,323.0 L285.0,322.4 L287.0,321.8 L289.0,321.2 L291.0,320.6 L293.0,320.0 L295.0,319.3 L297.0,318.7 L299.0,318.0 L301.0,317.3 L303.0,316.7 L305.0,316.0 L307.0,315.3 L309.0,314.5 L311.0,313.8 L313.0,313.1 L315.0,312.3 L317.0,311.5 L319.0,310.7 L321.0,309.9 L323.0,309.1 L325.0,308.3 L327.0,307.4 L329.0,306.5 L331.0,305.6 L333.0,304.7 L335.0,303.8 L337.0,302.9 L339.0,301.9 L341.0,301.0 L343.0,300.0 L345.0,299.1 L347.0,298.1 L349.0,297.1 L351.0,296.2 L353.0,295.2 L355.0,294.2 L357.0,293.3 L359.0,292.3 L361.0,291.4 L363.0,290.5 L365.0,289.6 L367.0,288.7 L369.0,287.8 L371.0,287.0 L373.0,286.1 L375.0,285.3 L377.0,284.5 L379.0,283.7 L381.0,283.0 L383.0,282.2 L385.0,281.5 L387.0,280.8 L389.0,280.1 L391.0,279.4 L393.0,278.7 L395.0,278.0 L397.0,277.4 L399.0,276.7 L401.0,276.1 L403.0,275.5 L405.0,274.9 L407.0,274.2 L409.0,273.7 L411.0,273.1 L413.0,272.5 L415.0,272.0 L417.0,271.4 L419.0,270.9 L421.0,270.4 L423.0,269.9 L425.0,269.4 L427.0,268.9 L429.0,268.4 L431.0,268.0 L433.0,267.6 L435.0,267.2 L437.0,266.8 L439.0,266.4 L441.0,266.0 L443.0,265.7 L445.0,265.4 L447.0,265.1 L449.0,264.8 L451.0,264.5 L453.0,264.3 L455.0,264.0 L457.0,263.8 L459.0,263.7 L461.0,263.5 L463.0,263.3 L465.0,263.2 L467.0,263.1 L469.0,263.0 L471.0,263.0 L473.0,263.0 L475.0,262.9 L477.0,263.0 L479.0,263.0 L481.0,263.1 L483.0,263.2 L485.0,263.3 L487.0,263.4 L489.0,263.6 L491.0,263.8 L493.0,264.0 L495.0,264.2 L497.0,264.5 L499.0,264.8 L501.0,265.1 L503.0,265.5 L505.0,265.9 L507.0,266.3 L509.0,266.7 L511.0,267.2 L513.0,267.7 L515.0,268.3 L517.0,268.8 L519.0,269.4 L521.0,270.1 L523.0,270.7 L525.0,271.4 L527.0,272.1 L529.0,272.8 L531.0,273.6 L533.0,274.4 L535.0,275.2 L537.0,276.0 L539.0,276.8 L541.0,277.7 L543.0,278.5 L545.0,279.4 L547.0,280.3 L549.0,281.2 L551.0,282.1 L553.0,283.1 L555.0,284.0 L557.0,284.9 L559.0,285.9 L561.0,286.8 L563.0,287.8 L565.0,288.8 L567.0,289.7 L569.0,290.7 L571.0,291.6 L573.0,292.6 L575.0,293.6 L577.0,294.5 L579.0,295.5 L581.0,296.4 L583.0,297.3 L585.0,298.3 L587.0,299.2 L589.0,300.1 L591.0,301.0 L593.0,301.9 L595.0,302.7 L597.0,303.6 L599.0,304.4 L601.0,305.2 L603.0,306.0 L605.0,306.8 L607.0,307.6 L609.0,308.4 L611.0,309.1 L613.0,309.9 L615.0,310.7 L617.0,311.5 L619.0,312.3 L621.0,313.0 L623.0,313.9 L625.0,314.7 L627.0,315.5 L629.0,316.3 L631.0,317.2 L633.0,318.1 L635.0,319.0 L637.0,319.9 L639.0,320.9 L641.0,321.9 L643.0,322.9 L645.0,324.0 L647.0,325.1 L649.0,326.2 L651.0,327.4 L653.0,328.6 L655.0,329.8 L657.0,331.2 L659.0,332.5 L661.0,333.9 L663.0,335.3 L665.0,336.8 L667.0,338.2 L669.0,339.7 L671.0,341.2 L673.0,342.8 L675.0,344.3 L677.0,345.8 L679.0,347.3 L681.0,348.8 L683.0,350.3 L685.0,351.8 L687.0,353.2 L689.0,354.6 L691.0,356.0 L693.0,357.4 L695.0,358.7 L697.0,359.9 L699.0,361.1 L701.0,362.3 L703.0,363.4 L705.0,364.4 L707.0,365.3 L709.0,366.2 L711.0,367.0 L713.0,367.7 L715.0,368.3 L717.0,368.8 L719.0,369.3 L721.0,369.7 L723.0,370.0 L725.0,370.2 L727.0,370.4 L729.0,370.5 L731.0,370.6 L733.0,370.6 L735.0,370.6 L737.0,370.5 L739.0,370.4 L741.0,370.2 L743.0,370.0 L745.0,369.8 L747.0,369.5 L749.0,369.2 L751.0,368.9 L753.0,368.6 L755.0,368.3 L757.0,368.0 L759.0,367.6 L761.0,367.3 L763.0,366.9 L765.0,366.6 L767.0,366.3 L769.0,366.0 L769.0,420.1 L767.0,420.1 L765.0,420.0 L763.0,419.9 L761.0,419.8 L759.0,419.6 L757.0,419.4 L755.0,419.2 L753.0,418.9 L751.0,418.6 L749.0,418.2 L747.0,417.8 L745.0,417.3 L743.0,416.8 L741.0,416.3 L739.0,415.7 L737.0,415.1 L735.0,414.4 L733.0,413.7 L731.0,412.9 L729.0,412.1 L727.0,411.2 L725.0,410.3 L723.0,409.4 L721.0,408.4 L719.0,407.3 L717.0,406.3 L715.0,405.2 L713.0,404.0 L711.0,402.8 L709.0,401.6 L707.0,400.4 L705.0,399.1 L703.0,397.8 L701.0,396.5 L699.0,395.1 L697.0,393.8 L695.0,392.4 L693.0,391.0 L691.0,389.6 L689.0,388.2 L687.0,386.8 L685.0,385.4 L683.0,384.0 L681.0,382.6 L679.0,381.3 L677.0,379.9 L675.0,378.5 L673.0,377.2 L671.0,375.8 L669.0,374.5 L667.0,373.2 L665.0,371.8 L663.0,370.5 L661.0,369.2 L659.0,367.9 L657.0,366.6 L655.0,365.3 L653.0,364.1 L651.0,362.8 L649.0,361.5 L647.0,360.3 L645.0,359.1 L643.0,357.8 L641.0,356.6 L639.0,355.4 L637.0,354.2 L635.0,353.1 L633.0,351.9 L631.0,350.7 L629.0,349.6 L627.0,348.5 L625.0,347.3 L623.0,346.2 L621.0,345.1 L619.0,344.0 L617.0,343.0 L615.0,341.9 L613.0,340.8 L611.0,339.8 L609.0,338.8 L607.0,337.7 L605.0,336.7 L603.0,335.7 L601.0,334.7 L599.0,333.7 L597.0,332.7 L595.0,331.8 L593.0,330.8 L591.0,329.8 L589.0,328.9 L587.0,327.9 L585.0,327.0 L583.0,326.0 L581.0,325.1 L579.0,324.2 L577.0,323.2 L575.0,322.3 L573.0,321.4 L571.0,320.5 L569.0,319.6 L567.0,318.7 L565.0,317.8 L563.0,316.8 L561.0,315.9 L559.0,315.0 L557.0,314.2 L555.0,313.3 L553.0,312.4 L551.0,311.5 L549.0,310.6 L547.0,309.7 L545.0,308.8 L543.0,307.9 L541.0,307.0 L539.0,306.1 L537.0,305.2 L535.0,304.3 L533.0,303.4 L531.0,302.5 L529.0,301.6 L527.0,300.8 L525.0,299.9 L523.0,299.1 L521.0,298.2 L519.0,297.4 L517.0,296.6 L515.0,295.9 L513.0,295.1 L511.0,294.4 L509.0,293.7 L507.0,293.0 L505.0,292.4 L503.0,291.8 L501.0,291.2 L499.0,290.7 L497.0,290.2 L495.0,289.8 L493.0,289.4 L491.0,289.0 L489.0,288.7 L487.0,288.4 L485.0,288.2 L483.0,288.1 L481.0,288.0 L479.0,287.9 L477.0,287.9 L475.0,288.0 L473.0,288.1 L471.0,288.2 L469.0,288.4 L467.0,288.6 L465.0,288.9 L463.0,289.2 L461.0,289.5 L459.0,289.9 L457.0,290.2 L455.0,290.7 L453.0,291.1 L451.0,291.6 L449.0,292.0 L447.0,292.5 L445.0,293.1 L443.0,293.6 L441.0,294.1 L439.0,294.7 L437.0,295.2 L435.0,295.7 L433.0,296.3 L431.0,296.8 L429.0,297.4 L427.0,297.9 L425.0,298.5 L423.0,299.0 L421.0,299.5 L419.0,300.0 L417.0,300.5 L415.0,300.9 L413.0,301.4 L411.0,301.9 L409.0,302.3 L407.0,302.8 L405.0,303.2 L403.0,303.7 L401.0,304.1 L399.0,304.6 L397.0,305.0 L395.0,305.5 L393.0,306.0 L391.0,306.4 L389.0,306.9 L387.0,307.4 L385.0,307.9 L383.0,308.4 L381.0,308.9 L379.0,309.5 L377.0,310.0 L375.0,310.6 L373.0,311.2 L371.0,311.8 L369.0,312.4 L367.0,313.1 L365.0,313.8 L363.0,314.4 L361.0,315.2 L359.0,315.9 L357.0,316.7 L355.0,317.4 L353.0,318.2 L351.0,319.1 L349.0,319.9 L347.0,320.7 L345.0,321.6 L343.0,322.5 L341.0,323.4 L339.0,324.3 L337.0,325.2 L335.0,326.1 L333.0,327.0 L331.0,328.0 L329.0,328.9 L327.0,329.9 L325.0,330.9 L323.0,331.8 L321.0,332.8 L319.0,333.8 L317.0,334.8 L315.0,335.8 L313.0,336.7 L311.0,337.7 L309.0,338.7 L307.0,339.7 L305.0,340.7 L303.0,341.6 L301.0,342.6 L299.0,343.6 L297.0,344.5 L295.0,345.4 L293.0,346.4 L291.0,347.3 L289.0,348.2 L287.0,349.1 L285.0,349.9 L283.0,350.8 L281.0,351.6 L279.0,352.5 L277.0,353.3 L275.0,354.0 L273.0,354.8 L271.0,355.6 L269.0,356.3 L267.0,357.1 L265.0,357.8 L263.0,358.6 L261.0,359.3 L259.0,360.1 L257.0,360.8 L255.0,361.6 L253.0,362.4 L251.0,363.2 L249.0,364.0 L247.0,364.8 L245.0,365.6 L243.0,366.5 L241.0,367.4 L239.0,368.3 L237.0,369.3 L235.0,370.3 L233.0,371.3 L231.0,372.3 L229.0,373.4 L227.0,374.6 L225.0,375.7 L223.0,376.9 L221.0,378.2 L219.0,379.4 L217.0,380.7 L215.0,381.9 L213.0,383.2 L211.0,384.5 L209.0,385.7 L207.0,387.0 L205.0,388.3 L203.0,389.5 L201.0,390.7 L199.0,391.9 L197.0,393.0 L195.0,394.1 L193.0,395.2 L191.0,396.2 L189.0,397.1 L187.0,398.1 L185.0,399.0 L183.0,399.8 L181.0,400.7 L179.0,401.5 L177.0,402.2 L175.0,403.0 L173.0,403.7 L171.0,404.3 L169.0,405.0 L167.0,405.6 L165.0,406.2 L163.0,406.8 L161.0,407.3 L159.0,407.9 L157.0,408.4 L155.0,408.9 L153.0,409.4 L151.0,409.9 L149.0,410.4 L147.0,410.8 L145.0,411.3 L143.0,411.7 L141.0,412.2 L139.0,412.6 L137.0,413.1 L135.0,413.5 L133.0,413.9 L131.0,414.3 L129.0,414.7 L127.0,415.1 L125.0,415.5 L123.0,415.9 L121.0,416.3 L119.0,416.6 L117.0,417.0 L115.0,417.3 L113.0,417.6 L111.0,417.9 L109.0,418.2 L107.0,418.4 L105.0,418.7 L103.0,418.9 L101.0,419.1 L99.0,419.2 L97.0,419.4 L95.0,419.5 L93.0,419.6 L91.0,419.7 L89.0,419.7 L87.0,419.8 L85.0,419.7 L83.0,419.7 Z" fill="rgba(90,86,184,0.204)"/>
<line x1="83" y1="334.4" x2="769" y2="334.4" stroke="rgba(0,0,0,0.4)" stroke-width="1"/>
<path d="M83.0,363.3 L85.0,363.3 L87.0,363.3 L89.0,363.2 L91.0,363.1 L93.0,363.0 L95.0,362.8 L97.0,362.5 L99.0,362.3 L101.0,362.0 L103.0,361.7 L105.0,361.3 L107.0,360.9 L109.0,360.5 L111.0,360.0 L113.0,359.5 L115.0,359.0 L117.0,358.4 L119.0,357.9 L121.0,357.2 L123.0,356.6 L125.0,355.9 L127.0,355.2 L129.0,354.5 L131.0,353.8 L133.0,353.0 L135.0,352.2 L137.0,351.4 L139.0,350.5 L141.0,349.6 L143.0,348.7 L145.0,347.8 L147.0,346.9 L149.0,345.9 L151.0,345.0 L153.0,344.0 L155.0,342.9 L157.0,341.9 L159.0,340.9 L161.0,339.8 L163.0,338.7 L165.0,337.6 L167.0,336.5 L169.0,335.3 L171.0,334.2 L173.0,333.0 L175.0,331.9 L177.0,330.7 L179.0,329.5 L181.0,328.3 L183.0,327.1 L185.0,325.8 L187.0,324.6 L189.0,323.4 L191.0,322.1 L193.0,320.8 L195.0,319.6 L197.0,318.3 L199.0,317.0 L201.0,315.7 L203.0,314.4 L205.0,313.1 L207.0,311.8 L209.0,310.5 L211.0,309.2 L213.0,307.9 L215.0,306.6 L217.0,305.3 L219.0,304.0 L221.0,302.7 L223.0,301.4 L225.0,300.1 L227.0,298.8 L229.0,297.5 L231.0,296.2 L233.0,294.9 L235.0,293.7 L237.0,292.4 L239.0,291.1 L241.0,289.8 L243.0,288.6 L245.0,287.3 L247.0,286.0 L249.0,284.8 L251.0,283.5 L253.0,282.2 L255.0,281.0 L257.0,279.7 L259.0,278.4 L261.0,277.2 L263.0,275.9 L265.0,274.6 L267.0,273.4 L269.0,272.1 L271.0,270.9 L273.0,269.6 L275.0,268.4 L277.0,267.2 L279.0,266.0 L281.0,264.8 L283.0,263.6 L285.0,262.4 L287.0,261.3 L289.0,260.1 L291.0,259.0 L293.0,257.9 L295.0,256.8 L297.0,255.8 L299.0,254.7 L301.0,253.7 L303.0,252.7 L305.0,251.7 L307.0,250.7 L309.0,249.8 L311.0,248.9 L313.0,248.0 L315.0,247.2 L317.0,246.3 L319.0,245.5 L321.0,244.7 L323.0,243.9 L325.0,243.0 L327.0,242.2 L329.0,241.4 L331.0,240.6 L333.0,239.8 L335.0,238.9 L337.0,238.1 L339.0,237.2 L341.0,236.3 L343.0,235.4 L345.0,234.5 L347.0,233.5 L349.0,232.6 L351.0,231.6 L353.0,230.5 L355.0,229.5 L357.0,228.5 L359.0,227.4 L361.0,226.3 L363.0,225.2 L365.0,224.1 L367.0,223.0 L369.0,221.9 L371.0,220.8 L373.0,219.6 L375.0,218.5 L377.0,217.3 L379.0,216.2 L381.0,215.0 L383.0,213.8 L385.0,212.6 L387.0,211.5 L389.0,210.3 L391.0,209.1 L393.0,207.9 L395.0,206.8 L397.0,205.6 L399.0,204.4 L401.0,203.3 L403.0,202.1 L405.0,201.0 L407.0,199.8 L409.0,198.7 L411.0,197.5 L413.0,196.4 L415.0,195.3 L417.0,194.2 L419.0,193.2 L421.0,192.1 L423.0,191.0 L425.0,190.0 L427.0,189.0 L429.0,188.0 L431.0,187.0 L433.0,186.0 L435.0,185.1 L437.0,184.2 L439.0,183.3 L441.0,182.5 L443.0,181.6 L445.0,180.8 L447.0,180.1 L449.0,179.3 L451.0,178.6 L453.0,178.0 L455.0,177.4 L457.0,176.8 L459.0,176.2 L461.0,175.7 L463.0,175.3 L465.0,174.9 L467.0,174.5 L469.0,174.2 L471.0,173.9 L473.0,173.7 L475.0,173.5 L477.0,173.4 L479.0,173.3 L481.0,173.3 L483.0,173.4 L485.0,173.5 L487.0,173.6 L489.0,173.8 L491.0,174.0 L493.0,174.3 L495.0,174.6 L497.0,175.0 L499.0,175.4 L501.0,175.8 L503.0,176.3 L505.0,176.8 L507.0,177.4 L509.0,178.0 L511.0,178.7 L513.0,179.4 L515.0,180.1 L517.0,180.8 L519.0,181.6 L521.0,182.5 L523.0,183.4 L525.0,184.3 L527.0,185.2 L529.0,186.2 L531.0,187.2 L533.0,188.2 L535.0,189.3 L537.0,190.3 L539.0,191.5 L541.0,192.6 L543.0,193.8 L545.0,195.0 L547.0,196.2 L549.0,197.5 L551.0,198.7 L553.0,200.0 L555.0,201.3 L557.0,202.7 L559.0,204.1 L561.0,205.4 L563.0,206.8 L565.0,208.3 L567.0,209.7 L569.0,211.2 L571.0,212.6 L573.0,214.1 L575.0,215.6 L577.0,217.2 L579.0,218.7 L581.0,220.2 L583.0,221.8 L585.0,223.4 L587.0,224.9 L589.0,226.5 L591.0,228.1 L593.0,229.7 L595.0,231.4 L597.0,233.0 L599.0,234.6 L601.0,236.2 L603.0,237.9 L605.0,239.5 L607.0,241.2 L609.0,242.9 L611.0,244.6 L613.0,246.3 L615.0,248.0 L617.0,249.7 L619.0,251.4 L621.0,253.2 L623.0,255.0 L625.0,256.8 L627.0,258.6 L629.0,260.4 L631.0,262.3 L633.0,264.1 L635.0,266.0 L637.0,267.9 L639.0,269.9 L641.0,271.8 L643.0,273.8 L645.0,275.8 L647.0,277.9 L649.0,280.0 L651.0,282.0 L653.0,284.2 L655.0,286.3 L657.0,288.5 L659.0,290.7 L661.0,293.0 L663.0,295.2 L665.0,297.5 L667.0,299.8 L669.0,302.1 L671.0,304.3 L673.0,306.6 L675.0,308.9 L677.0,311.2 L679.0,313.4 L681.0,315.6 L683.0,317.8 L685.0,320.0 L687.0,322.1 L689.0,324.2 L691.0,326.3 L693.0,328.3 L695.0,330.3 L697.0,332.2 L699.0,334.1 L701.0,335.9 L703.0,337.6 L705.0,339.3 L707.0,341.0 L709.0,342.5 L711.0,344.0 L713.0,345.5 L715.0,346.8 L717.0,348.1 L719.0,349.4 L721.0,350.5 L723.0,351.6 L725.0,352.7 L727.0,353.7 L729.0,354.6 L731.0,355.5 L733.0,356.3 L735.0,357.0 L737.0,357.7 L739.0,358.4 L741.0,359.0 L743.0,359.5 L745.0,360.0 L747.0,360.5 L749.0,360.9 L751.0,361.2 L753.0,361.6 L755.0,361.8 L757.0,362.1 L759.0,362.3 L761.0,362.4 L763.0,362.5 L765.0,362.6 L767.0,362.6 L769.0,362.7" fill="none" stroke="#c0203c" stroke-width="1.4" stroke-dasharray="1.3 2.4"/>
<path d="M83.0,434.4 L85.0,434.5 L87.0,434.5 L89.0,434.5 L91.0,434.5 L93.0,434.5 L95.0,434.4 L97.0,434.2 L99.0,434.1 L101.0,433.9 L103.0,433.7 L105.0,433.5 L107.0,433.2 L109.0,432.9 L111.0,432.6 L113.0,432.2 L115.0,431.8 L117.0,431.4 L119.0,431.0 L121.0,430.6 L123.0,430.1 L125.0,429.6 L127.0,429.1 L129.0,428.5 L131.0,428.0 L133.0,427.4 L135.0,426.8 L137.0,426.2 L139.0,425.5 L141.0,424.9 L143.0,424.2 L145.0,423.5 L147.0,422.8 L149.0,422.0 L151.0,421.3 L153.0,420.5 L155.0,419.7 L157.0,419.0 L159.0,418.2 L161.0,417.3 L163.0,416.5 L165.0,415.7 L167.0,414.8 L169.0,413.9 L171.0,413.1 L173.0,412.2 L175.0,411.3 L177.0,410.3 L179.0,409.4 L181.0,408.4 L183.0,407.5 L185.0,406.5 L187.0,405.5 L189.0,404.5 L191.0,403.5 L193.0,402.4 L195.0,401.4 L197.0,400.3 L199.0,399.2 L201.0,398.1 L203.0,397.0 L205.0,395.9 L207.0,394.8 L209.0,393.6 L211.0,392.5 L213.0,391.4 L215.0,390.3 L217.0,389.1 L219.0,388.0 L221.0,386.9 L223.0,385.9 L225.0,384.8 L227.0,383.7 L229.0,382.7 L231.0,381.7 L233.0,380.7 L235.0,379.7 L237.0,378.8 L239.0,377.9 L241.0,376.9 L243.0,376.0 L245.0,375.1 L247.0,374.2 L249.0,373.4 L251.0,372.5 L253.0,371.6 L255.0,370.7 L257.0,369.9 L259.0,369.0 L261.0,368.1 L263.0,367.3 L265.0,366.4 L267.0,365.5 L269.0,364.6 L271.0,363.7 L273.0,362.8 L275.0,361.9 L277.0,360.9 L279.0,360.0 L281.0,359.0 L283.0,358.0 L285.0,357.0 L287.0,355.9 L289.0,354.9 L291.0,353.8 L293.0,352.7 L295.0,351.6 L297.0,350.5 L299.0,349.4 L301.0,348.3 L303.0,347.1 L305.0,346.0 L307.0,344.8 L309.0,343.7 L311.0,342.5 L313.0,341.3 L315.0,340.2 L317.0,339.0 L319.0,337.8 L321.0,336.6 L323.0,335.5 L325.0,334.3 L327.0,333.1 L329.0,331.9 L331.0,330.8 L333.0,329.6 L335.0,328.5 L337.0,327.3 L339.0,326.2 L341.0,325.1 L343.0,324.0 L345.0,322.9 L347.0,321.8 L349.0,320.7 L351.0,319.6 L353.0,318.5 L355.0,317.5 L357.0,316.4 L359.0,315.4 L361.0,314.4 L363.0,313.3 L365.0,312.3 L367.0,311.3 L369.0,310.3 L371.0,309.3 L373.0,308.4 L375.0,307.4 L377.0,306.4 L379.0,305.5 L381.0,304.5 L383.0,303.6 L385.0,302.6 L387.0,301.7 L389.0,300.8 L391.0,299.8 L393.0,298.9 L395.0,298.0 L397.0,297.1 L399.0,296.2 L401.0,295.3 L403.0,294.4 L405.0,293.6 L407.0,292.7 L409.0,291.8 L411.0,291.0 L413.0,290.1 L415.0,289.3 L417.0,288.5 L419.0,287.7 L421.0,286.9 L423.0,286.2 L425.0,285.4 L427.0,284.7 L429.0,284.0 L431.0,283.3 L433.0,282.6 L435.0,282.0 L437.0,281.4 L439.0,280.8 L441.0,280.2 L443.0,279.7 L445.0,279.2 L447.0,278.7 L449.0,278.3 L451.0,277.9 L453.0,277.5 L455.0,277.2 L457.0,276.9 L459.0,276.6 L461.0,276.4 L463.0,276.2 L465.0,276.1 L467.0,276.0 L469.0,275.9 L471.0,275.9 L473.0,275.9 L475.0,276.0 L477.0,276.1 L479.0,276.3 L481.0,276.5 L483.0,276.7 L485.0,277.0 L487.0,277.3 L489.0,277.7 L491.0,278.1 L493.0,278.6 L495.0,279.1 L497.0,279.6 L499.0,280.2 L501.0,280.7 L503.0,281.4 L505.0,282.0 L507.0,282.7 L509.0,283.5 L511.0,284.2 L513.0,285.0 L515.0,285.8 L517.0,286.6 L519.0,287.5 L521.0,288.4 L523.0,289.3 L525.0,290.3 L527.0,291.2 L529.0,292.2 L531.0,293.2 L533.0,294.3 L535.0,295.3 L537.0,296.4 L539.0,297.5 L541.0,298.6 L543.0,299.7 L545.0,300.8 L547.0,301.9 L549.0,303.1 L551.0,304.3 L553.0,305.5 L555.0,306.6 L557.0,307.8 L559.0,309.1 L561.0,310.3 L563.0,311.5 L565.0,312.7 L567.0,314.0 L569.0,315.2 L571.0,316.4 L573.0,317.7 L575.0,318.9 L577.0,320.2 L579.0,321.4 L581.0,322.7 L583.0,323.9 L585.0,325.2 L587.0,326.4 L589.0,327.6 L591.0,328.8 L593.0,330.1 L595.0,331.3 L597.0,332.5 L599.0,333.7 L601.0,334.9 L603.0,336.0 L605.0,337.2 L607.0,338.4 L609.0,339.6 L611.0,340.7 L613.0,341.9 L615.0,343.1 L617.0,344.3 L619.0,345.4 L621.0,346.6 L623.0,347.8 L625.0,349.0 L627.0,350.3 L629.0,351.5 L631.0,352.8 L633.0,354.0 L635.0,355.3 L637.0,356.6 L639.0,357.9 L641.0,359.3 L643.0,360.6 L645.0,362.0 L647.0,363.5 L649.0,364.9 L651.0,366.4 L653.0,367.9 L655.0,369.4 L657.0,371.0 L659.0,372.6 L661.0,374.2 L663.0,375.9 L665.0,377.6 L667.0,379.3 L669.0,381.0 L671.0,382.7 L673.0,384.4 L675.0,386.2 L677.0,387.9 L679.0,389.7 L681.0,391.4 L683.0,393.1 L685.0,394.9 L687.0,396.6 L689.0,398.3 L691.0,400.0 L693.0,401.6 L695.0,403.3 L697.0,404.9 L699.0,406.5 L701.0,408.0 L703.0,409.5 L705.0,411.0 L707.0,412.4 L709.0,413.8 L711.0,415.2 L713.0,416.5 L715.0,417.7 L717.0,418.9 L719.0,420.1 L721.0,421.2 L723.0,422.2 L725.0,423.2 L727.0,424.2 L729.0,425.1 L731.0,425.9 L733.0,426.7 L735.0,427.5 L737.0,428.2 L739.0,428.9 L741.0,429.5 L743.0,430.1 L745.0,430.7 L747.0,431.2 L749.0,431.7 L751.0,432.1 L753.0,432.5 L755.0,432.8 L757.0,433.2 L759.0,433.4 L761.0,433.7 L763.0,433.9 L765.0,434.0 L767.0,434.2 L769.0,434.3" fill="none" stroke="#4a3ab2" stroke-width="1.4" stroke-dasharray="1.3 2.4"/>
<path d="M83.0,341.0 L85.0,340.8 L87.0,340.5 L89.0,340.2 L91.0,339.9 L93.0,339.6 L95.0,339.2 L97.0,338.9 L99.0,338.5 L101.0,338.1 L103.0,337.7 L105.0,337.4 L107.0,337.0 L109.0,336.6 L111.0,336.3 L113.0,336.0 L115.0,335.6 L117.0,335.3 L119.0,335.1 L121.0,334.8 L123.0,334.5 L125.0,334.2 L127.0,334.0 L129.0,333.7 L131.0,333.4 L133.0,333.2 L135.0,332.9 L137.0,332.6 L139.0,332.3 L141.0,332.0 L143.0,331.6 L145.0,331.3 L147.0,330.9 L149.0,330.5 L151.0,330.0 L153.0,329.5 L155.0,329.0 L157.0,328.4 L159.0,327.8 L161.0,327.1 L163.0,326.3 L165.0,325.5 L167.0,324.6 L169.0,323.6 L171.0,322.5 L173.0,321.4 L175.0,320.2 L177.0,319.0 L179.0,317.7 L181.0,316.4 L183.0,315.0 L185.0,313.6 L187.0,312.3 L189.0,310.9 L191.0,309.5 L193.0,308.1 L195.0,306.8 L197.0,305.4 L199.0,304.2 L201.0,302.9 L203.0,301.6 L205.0,300.4 L207.0,299.2 L209.0,298.1 L211.0,296.9 L213.0,295.8 L215.0,294.6 L217.0,293.5 L219.0,292.5 L221.0,291.4 L223.0,290.3 L225.0,289.3 L227.0,288.2 L229.0,287.2 L231.0,286.2 L233.0,285.2 L235.0,284.2 L237.0,283.2 L239.0,282.2 L241.0,281.2 L243.0,280.2 L245.0,279.2 L247.0,278.2 L249.0,277.2 L251.0,276.2 L253.0,275.2 L255.0,274.1 L257.0,273.1 L259.0,272.1 L261.0,271.1 L263.0,270.0 L265.0,269.0 L267.0,268.0 L269.0,266.9 L271.0,265.9 L273.0,264.9 L275.0,263.8 L277.0,262.8 L279.0,261.8 L281.0,260.8 L283.0,259.7 L285.0,258.7 L287.0,257.7 L289.0,256.7 L291.0,255.7 L293.0,254.7 L295.0,253.8 L297.0,252.8 L299.0,251.8 L301.0,250.9 L303.0,249.9 L305.0,249.0 L307.0,248.1 L309.0,247.2 L311.0,246.2 L313.0,245.3 L315.0,244.4 L317.0,243.5 L319.0,242.6 L321.0,241.7 L323.0,240.8 L325.0,239.9 L327.0,239.0 L329.0,238.1 L331.0,237.2 L333.0,236.2 L335.0,235.3 L337.0,234.4 L339.0,233.4 L341.0,232.5 L343.0,231.5 L345.0,230.5 L347.0,229.6 L349.0,228.6 L351.0,227.6 L353.0,226.5 L355.0,225.5 L357.0,224.5 L359.0,223.4 L361.0,222.4 L363.0,221.3 L365.0,220.2 L367.0,219.2 L369.0,218.1 L371.0,217.0 L373.0,215.8 L375.0,214.7 L377.0,213.6 L379.0,212.5 L381.0,211.3 L383.0,210.1 L385.0,209.0 L387.0,207.8 L389.0,206.6 L391.0,205.4 L393.0,204.2 L395.0,203.0 L397.0,201.7 L399.0,200.5 L401.0,199.2 L403.0,198.0 L405.0,196.7 L407.0,195.5 L409.0,194.2 L411.0,192.9 L413.0,191.7 L415.0,190.4 L417.0,189.1 L419.0,187.9 L421.0,186.6 L423.0,185.4 L425.0,184.2 L427.0,183.0 L429.0,181.8 L431.0,180.7 L433.0,179.6 L435.0,178.4 L437.0,177.4 L439.0,176.3 L441.0,175.3 L443.0,174.3 L445.0,173.3 L447.0,172.4 L449.0,171.6 L451.0,170.7 L453.0,169.9 L455.0,169.2 L457.0,168.5 L459.0,167.8 L461.0,167.2 L463.0,166.7 L465.0,166.2 L467.0,165.7 L469.0,165.4 L471.0,165.0 L473.0,164.8 L475.0,164.6 L477.0,164.5 L479.0,164.4 L481.0,164.4 L483.0,164.5 L485.0,164.6 L487.0,164.8 L489.0,165.0 L491.0,165.3 L493.0,165.7 L495.0,166.1 L497.0,166.5 L499.0,167.0 L501.0,167.6 L503.0,168.2 L505.0,168.8 L507.0,169.5 L509.0,170.3 L511.0,171.0 L513.0,171.9 L515.0,172.7 L517.0,173.6 L519.0,174.6 L521.0,175.5 L523.0,176.5 L525.0,177.6 L527.0,178.7 L529.0,179.8 L531.0,180.9 L533.0,182.1 L535.0,183.3 L537.0,184.5 L539.0,185.8 L541.0,187.0 L543.0,188.3 L545.0,189.6 L547.0,191.0 L549.0,192.3 L551.0,193.7 L553.0,195.1 L555.0,196.5 L557.0,197.9 L559.0,199.4 L561.0,200.8 L563.0,202.3 L565.0,203.7 L567.0,205.2 L569.0,206.7 L571.0,208.2 L573.0,209.7 L575.0,211.2 L577.0,212.8 L579.0,214.3 L581.0,215.8 L583.0,217.4 L585.0,219.0 L587.0,220.6 L589.0,222.1 L591.0,223.7 L593.0,225.3 L595.0,227.0 L597.0,228.6 L599.0,230.2 L601.0,231.9 L603.0,233.5 L605.0,235.2 L607.0,236.9 L609.0,238.5 L611.0,240.2 L613.0,241.9 L615.0,243.6 L617.0,245.4 L619.0,247.1 L621.0,248.8 L623.0,250.6 L625.0,252.3 L627.0,254.1 L629.0,255.8 L631.0,257.6 L633.0,259.4 L635.0,261.2 L637.0,263.0 L639.0,264.8 L641.0,266.6 L643.0,268.4 L645.0,270.2 L647.0,272.0 L649.0,273.8 L651.0,275.6 L653.0,277.4 L655.0,279.2 L657.0,281.0 L659.0,282.8 L661.0,284.6 L663.0,286.4 L665.0,288.2 L667.0,289.9 L669.0,291.7 L671.0,293.4 L673.0,295.1 L675.0,296.8 L677.0,298.5 L679.0,300.2 L681.0,301.9 L683.0,303.5 L685.0,305.1 L687.0,306.7 L689.0,308.3 L691.0,309.9 L693.0,311.4 L695.0,312.9 L697.0,314.4 L699.0,315.9 L701.0,317.3 L703.0,318.7 L705.0,320.1 L707.0,321.4 L709.0,322.7 L711.0,324.0 L713.0,325.3 L715.0,326.5 L717.0,327.6 L719.0,328.8 L721.0,329.9 L723.0,330.9 L725.0,332.0 L727.0,332.9 L729.0,333.9 L731.0,334.8 L733.0,335.6 L735.0,336.4 L737.0,337.1 L739.0,337.8 L741.0,338.5 L743.0,339.1 L745.0,339.7 L747.0,340.2 L749.0,340.6 L751.0,341.0 L753.0,341.3 L755.0,341.6 L757.0,341.8 L759.0,342.0 L761.0,342.1 L763.0,342.1 L765.0,342.1 L767.0,342.0 L769.0,341.9" fill="none" stroke="#b9203f" stroke-width="2.3" stroke-linejoin="round"/>
<path d="M83.0,396.4 L85.0,396.5 L87.0,396.5 L89.0,396.6 L91.0,396.6 L93.0,396.6 L95.0,396.6 L97.0,396.5 L99.0,396.4 L101.0,396.3 L103.0,396.2 L105.0,396.1 L107.0,395.9 L109.0,395.7 L111.0,395.5 L113.0,395.3 L115.0,395.0 L117.0,394.7 L119.0,394.4 L121.0,394.1 L123.0,393.8 L125.0,393.5 L127.0,393.1 L129.0,392.7 L131.0,392.3 L133.0,391.9 L135.0,391.4 L137.0,391.0 L139.0,390.5 L141.0,390.0 L143.0,389.5 L145.0,389.0 L147.0,388.4 L149.0,387.9 L151.0,387.3 L153.0,386.7 L155.0,386.2 L157.0,385.6 L159.0,384.9 L161.0,384.3 L163.0,383.7 L165.0,383.0 L167.0,382.3 L169.0,381.7 L171.0,381.0 L173.0,380.3 L175.0,379.6 L177.0,378.9 L179.0,378.2 L181.0,377.4 L183.0,376.7 L185.0,375.9 L187.0,375.2 L189.0,374.4 L191.0,373.7 L193.0,372.9 L195.0,372.1 L197.0,371.3 L199.0,370.6 L201.0,369.8 L203.0,369.0 L205.0,368.2 L207.0,367.4 L209.0,366.6 L211.0,365.8 L213.0,365.0 L215.0,364.2 L217.0,363.4 L219.0,362.6 L221.0,361.8 L223.0,361.0 L225.0,360.2 L227.0,359.3 L229.0,358.5 L231.0,357.7 L233.0,356.9 L235.0,356.2 L237.0,355.4 L239.0,354.6 L241.0,353.8 L243.0,353.0 L245.0,352.2 L247.0,351.4 L249.0,350.6 L251.0,349.8 L253.0,349.1 L255.0,348.3 L257.0,347.5 L259.0,346.7 L261.0,345.9 L263.0,345.2 L265.0,344.4 L267.0,343.6 L269.0,342.8 L271.0,342.1 L273.0,341.3 L275.0,340.5 L277.0,339.7 L279.0,339.0 L281.0,338.2 L283.0,337.4 L285.0,336.6 L287.0,335.8 L289.0,335.1 L291.0,334.3 L293.0,333.5 L295.0,332.7 L297.0,331.9 L299.0,331.2 L301.0,330.4 L303.0,329.6 L305.0,328.8 L307.0,328.0 L309.0,327.2 L311.0,326.4 L313.0,325.6 L315.0,324.8 L317.0,324.0 L319.0,323.2 L321.0,322.4 L323.0,321.6 L325.0,320.8 L327.0,320.0 L329.0,319.2 L331.0,318.4 L333.0,317.5 L335.0,316.7 L337.0,315.9 L339.0,315.1 L341.0,314.2 L343.0,313.4 L345.0,312.6 L347.0,311.7 L349.0,310.9 L351.0,310.1 L353.0,309.2 L355.0,308.4 L357.0,307.6 L359.0,306.7 L361.0,305.9 L363.0,305.1 L365.0,304.3 L367.0,303.4 L369.0,302.6 L371.0,301.8 L373.0,301.0 L375.0,300.2 L377.0,299.3 L379.0,298.5 L381.0,297.7 L383.0,296.9 L385.0,296.1 L387.0,295.3 L389.0,294.6 L391.0,293.8 L393.0,293.0 L395.0,292.2 L397.0,291.5 L399.0,290.7 L401.0,290.0 L403.0,289.2 L405.0,288.5 L407.0,287.8 L409.0,287.0 L411.0,286.3 L413.0,285.6 L415.0,285.0 L417.0,284.3 L419.0,283.6 L421.0,283.0 L423.0,282.4 L425.0,281.8 L427.0,281.2 L429.0,280.6 L431.0,280.1 L433.0,279.5 L435.0,279.0 L437.0,278.5 L439.0,278.1 L441.0,277.6 L443.0,277.2 L445.0,276.8 L447.0,276.4 L449.0,276.1 L451.0,275.7 L453.0,275.5 L455.0,275.2 L457.0,275.0 L459.0,274.8 L461.0,274.6 L463.0,274.4 L465.0,274.3 L467.0,274.3 L469.0,274.2 L471.0,274.2 L473.0,274.3 L475.0,274.3 L477.0,274.4 L479.0,274.6 L481.0,274.8 L483.0,275.0 L485.0,275.2 L487.0,275.5 L489.0,275.8 L491.0,276.1 L493.0,276.5 L495.0,276.9 L497.0,277.3 L499.0,277.8 L501.0,278.3 L503.0,278.8 L505.0,279.3 L507.0,279.9 L509.0,280.5 L511.0,281.1 L513.0,281.7 L515.0,282.4 L517.0,283.0 L519.0,283.7 L521.0,284.4 L523.0,285.2 L525.0,285.9 L527.0,286.7 L529.0,287.5 L531.0,288.3 L533.0,289.1 L535.0,289.9 L537.0,290.8 L539.0,291.6 L541.0,292.5 L543.0,293.4 L545.0,294.2 L547.0,295.1 L549.0,296.0 L551.0,297.0 L553.0,297.9 L555.0,298.8 L557.0,299.7 L559.0,300.7 L561.0,301.6 L563.0,302.6 L565.0,303.5 L567.0,304.5 L569.0,305.4 L571.0,306.4 L573.0,307.3 L575.0,308.3 L577.0,309.3 L579.0,310.2 L581.0,311.2 L583.0,312.1 L585.0,313.0 L587.0,314.0 L589.0,314.9 L591.0,315.8 L593.0,316.8 L595.0,317.7 L597.0,318.6 L599.0,319.5 L601.0,320.3 L603.0,321.2 L605.0,322.1 L607.0,323.0 L609.0,323.8 L611.0,324.7 L613.0,325.6 L615.0,326.5 L617.0,327.4 L619.0,328.3 L621.0,329.2 L623.0,330.1 L625.0,331.0 L627.0,332.0 L629.0,332.9 L631.0,333.9 L633.0,334.9 L635.0,335.9 L637.0,336.9 L639.0,338.0 L641.0,339.0 L643.0,340.1 L645.0,341.2 L647.0,342.3 L649.0,343.4 L651.0,344.5 L653.0,345.7 L655.0,346.9 L657.0,348.1 L659.0,349.3 L661.0,350.5 L663.0,351.8 L665.0,353.1 L667.0,354.3 L669.0,355.6 L671.0,356.9 L673.0,358.2 L675.0,359.5 L677.0,360.8 L679.0,362.1 L681.0,363.4 L683.0,364.7 L685.0,366.0 L687.0,367.3 L689.0,368.6 L691.0,369.8 L693.0,371.0 L695.0,372.3 L697.0,373.5 L699.0,374.6 L701.0,375.8 L703.0,376.9 L705.0,378.0 L707.0,379.1 L709.0,380.2 L711.0,381.2 L713.0,382.1 L715.0,383.1 L717.0,384.0 L719.0,384.8 L721.0,385.7 L723.0,386.5 L725.0,387.2 L727.0,388.0 L729.0,388.6 L731.0,389.3 L733.0,389.9 L735.0,390.5 L737.0,391.1 L739.0,391.6 L741.0,392.1 L743.0,392.6 L745.0,393.0 L747.0,393.4 L749.0,393.8 L751.0,394.2 L753.0,394.5 L755.0,394.8 L757.0,395.0 L759.0,395.3 L761.0,395.5 L763.0,395.7 L765.0,395.8 L767.0,395.9 L769.0,396.1" fill="none" stroke="#4a38aa" stroke-width="2.3" stroke-linejoin="round"/>
<line x1="583.5" y1="85" x2="583.5" y2="489" stroke="#ff6b80" stroke-width="1.3"/>
<text x="588" y="479.7" font-size="17" fill="#ff6b80">Now</text>
<g font-size="17" fill="#000">
<g text-anchor="end"><text x="79" y="476.5">-10°F</text><text x="79" y="444.0">0°F</text><text x="79" y="411.5">10°F</text><text x="79" y="379.0">20°F</text><text x="79" y="346.5">30°F</text><text x="79" y="314.0">40°F</text><text x="79" y="281.5">50°F</text><text x="79" y="249.1">60°F</text><text x="79" y="216.6">70°F</text><text x="79" y="184.1">80°F</text><text x="79" y="151.6">90°F</text><text x="79" y="119.1">100°F</text></g>
<text x="774" y="476.5">-10°F</text><text x="774" y="444.0">0°F</text><text x="774" y="411.5">10°F</text><text x="774" y="379.0">20°F</text><text x="774" y="346.5">30°F</text><text x="774" y="314.0">40°F</text><text x="774" y="281.5">50°F</text><text x="774" y="249.1">60°F</text><text x="774" y="216.6">70°F</text><text x="774" y="184.1">80°F</text><text x="774" y="151.6">90°F</text><text x="774" y="119.1">100°F</text>
</g>
<g font-size="17" fill="#1f4fb5" text-anchor="middle"><text x="112.1" y="507">Jan</text><text x="167.6" y="507">Feb</text><text x="223.0" y="507">Mar</text><text x="280.3" y="507">Apr</text><text x="337.7" y="507">May</text><text x="395.0" y="507">Jun</text><text x="452.3" y="507">Jul</text><text x="510.6" y="507">Aug</text><text x="567.9" y="507">Sep</text><text x="625.2" y="507">Oct</text><text x="682.5" y="507">Nov</text><text x="739.9" y="507">Dec</text></g>
<g fill="#000"><circle cx="194.8" cy="306.8" r="2.5"/><circle cx="194.8" cy="372.2" r="2.5"/><circle cx="399.5" cy="200.7" r="2.5"/><circle cx="399.3" cy="291.8" r="2.5"/><circle cx="473.2" cy="165.1" r="2.5"/><circle cx="473.4" cy="273.9" r="2.5"/><circle cx="560.6" cy="200.6" r="2.5"/><circle cx="560.6" cy="301.1" r="2.5"/><circle cx="685.9" cy="365.7" r="2.5"/><circle cx="766.9" cy="342.2" r="2.5"/><circle cx="766.9" cy="398.3" r="2.5"/></g>
<g font-size="17" fill="#2050b8" text-anchor="middle" stroke="rgba(255,255,255,0.5)" stroke-width="3.2" paint-order="stroke" stroke-linejoin="round"><text x="195.5" y="276.5">Mar 1</text><text x="195.5" y="297.9">40°F</text><text x="195.5" y="391.8">20°F</text><text x="399.8" y="171.2">Jun 18</text><text x="400" y="191.7">73°F</text><text x="399.5" y="311.5">45°F</text><text x="473" y="135.5">Jul 27</text><text x="473.5" y="156.7">84°F</text><text x="473.3" y="293.4">51°F</text><text x="560.2" y="170.9">Sep 11</text><text x="561.4" y="191.8">73°F</text><text x="560.6" y="320.6">42°F</text><text x="685.8" y="386.1">22°F</text><text x="740" y="311.9">Dec 30</text><text x="739.8" y="332.3">30°F</text><text x="747" y="418.4">12°F</text></g>
</svg>
<div class="cap">The daily average high (red line) and low (blue line) temperature, with 25th to 75th and 10th to 90th<br>percentile bands. The thin dotted lines are the corresponding average perceived temperatures.</div>
</body></html>
